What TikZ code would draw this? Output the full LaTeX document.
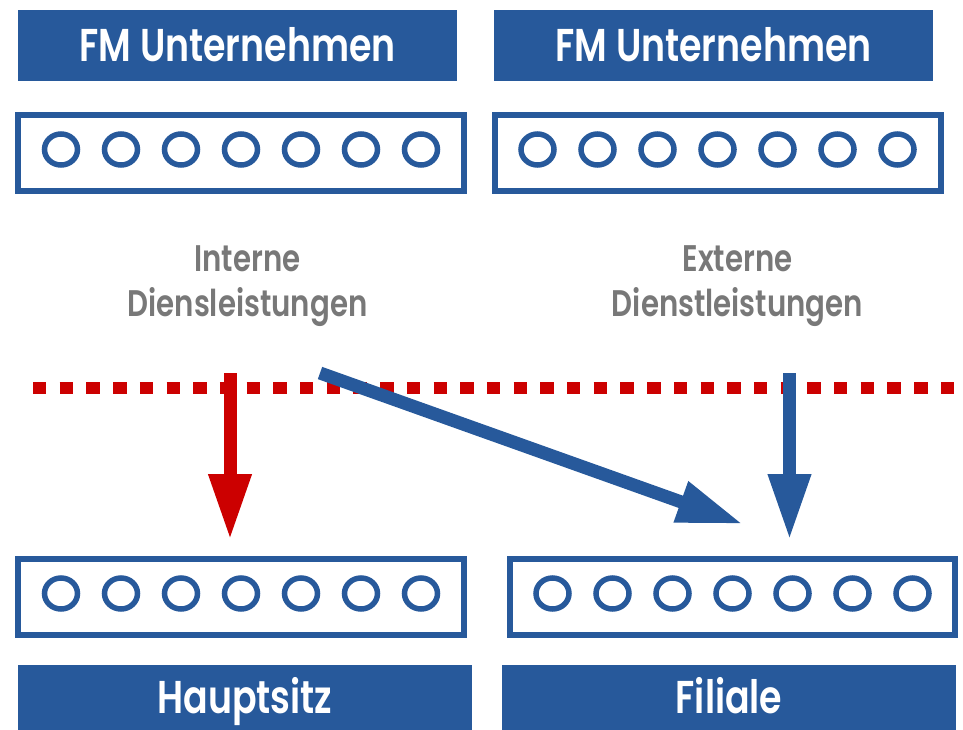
\documentclass[tikz,border=0pt]{standalone}
\usepackage{fontspec}
\setmainfont{Poppins}[FakeStretch=0.79, BoldFont={Poppins SemiBold}]
\usepackage{tikz}
\usetikzlibrary{arrows.meta,positioning,shapes.geometric}
\definecolor{fmblue}{RGB}{39,89,155}
\definecolor{fmred}{RGB}{204,0,0}
\definecolor{fmgray}{RGB}{120,120,120}
\tikzstyle{header} = [rectangle, fill=fmblue, text=white, inner sep=0pt, outer sep=0pt, minimum height=71pt, text height=32pt, text depth=0pt, font=\fontsize{46}{50}\selectfont\bfseries]
\tikzstyle{unitbox} = [rectangle, draw=fmblue, line width=6pt, outer sep=0pt, minimum width=446pt, minimum height=76pt]
\tikzstyle{seat} = [ellipse, draw=fmblue, line width=5.5pt, minimum width=33pt, minimum height=31pt, inner sep=0pt]
\tikzstyle{service} = [text=fmgray, align=center, font=\fontsize{37}{45}\selectfont\bfseries]
\tikzstyle{bigarrow} = [line width=13pt, -{Triangle[width=40pt,length=66pt]}]

\begin{document}
\begin{tikzpicture}[x=1pt, y=-1pt]
\useasboundingbox (0,0) rectangle (963,730);
\node[header, minimum width=439pt] (fmleft) at (237.5,45.5) {FM Unternehmen};
\node[header, minimum width=439pt] (fmright) at (713.5,45.5) {FM Unternehmen};
\node[unitbox, below=34pt of fmleft, xshift=3.5pt] (boxtl) {};
\node[unitbox, below=34pt of fmright, xshift=4pt] (boxtr) {};

\node[header, minimum width=454pt, minimum height=65pt] (hq) at (245,697.5) {Hauptsitz};
\node[header, minimum width=454pt, minimum height=65pt] (branch) at (729,697.5) {Filiale};
\node[unitbox, minimum width=446pt, above=30pt of hq, xshift=-4pt] (boxbl) {};
\node[unitbox, minimum width=445pt, above=30pt of branch, xshift=3.5pt] (boxbr) {};

\foreach \b in {boxtl,boxtr,boxbl,boxbr}
  \foreach \i in {1,...,7}
    \node[seat] (\b-\i) at ([xshift=(\i-4)*60pt, yshift=3.5pt]\b.center) {};

\node[service] (intern) at (247.5,286) {Interne\\Diensleistungen};
\node[service] (extern) at (737.5,286) {Externe\\Dienstleistungen};

% dotted border line
\coordinate (divl) at (33,388);
\coordinate (divr) at (963,388);
\draw[fmred, line width=12.5pt, dash pattern=on 13.4pt off 13.3pt] (divl) -- (divr);

\coordinate (intstart) at (230,373);
\coordinate (extstart) at (789.5,373);
\coordinate (diagstart) at (320,373);
\coordinate (diagend) at (743,524);
\draw[bigarrow, fmred, shorten >=19pt] (intstart) -- (intstart |- boxbl.north);
\draw[bigarrow, fmblue, shorten >=19pt] (extstart) -- (extstart |- boxbr.north);
\draw[bigarrow, fmblue] (diagstart) -- (diagend);
\end{tikzpicture}
\end{document}
